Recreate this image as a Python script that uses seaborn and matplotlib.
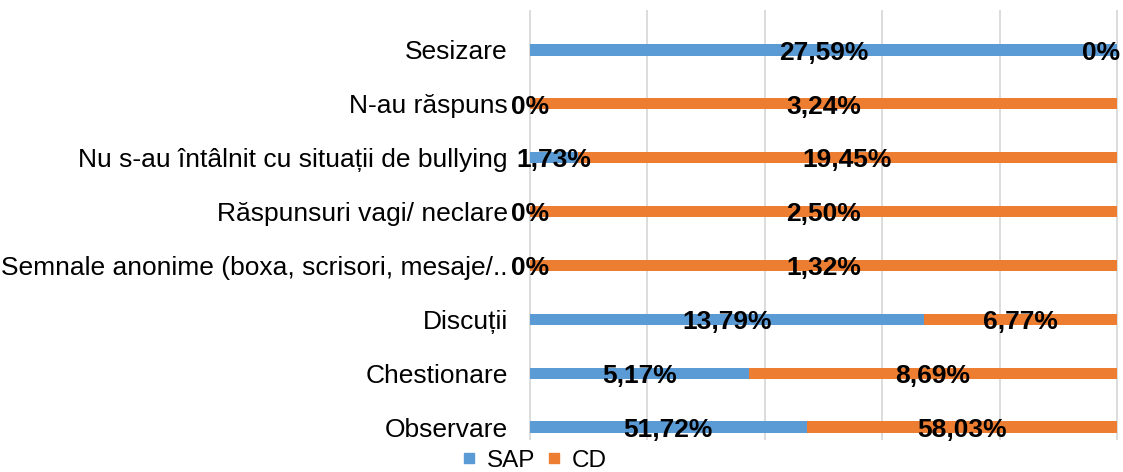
import numpy as np
import pandas as pd
import matplotlib
matplotlib.use("Agg")
import matplotlib.pyplot as plt
from matplotlib.lines import Line2D
import seaborn as sns

categories = ["Sesizare", "N-au răspuns", "Nu s-au întâlnit cu situații de bullying",
              "Răspunsuri vagi/ neclare", "Semnale anonime (boxa, scrisori, mesaje/..",
              "Discuții", "Chestionare", "Observare"]
sap = [27.59, 0, 1.73, 0, 0, 13.79, 5.17, 51.72]
cd = [0, 3.24, 19.45, 2.50, 1.32, 6.77, 8.69, 58.03]
series = ["SAP", "CD"]

blue = "#5B9BD5"
orange = "#ED7D31"

sns.set_theme(style="white")
plt.rcParams["font.family"] = ["Liberation Sans", "DejaVu Sans"]
plt.rcParams["text.color"] = "black"

df = pd.DataFrame({"cat": categories, "SAP": sap, "CD": cd})
tot = df["SAP"] + df["CD"]
df["sap_share"] = df["SAP"] / tot * 100
df["full"] = 100.0

fig = plt.figure(figsize=(11.23, 4.72), dpi=100)
ax = fig.add_axes([530 / 1123, 1 - 454 / 472, 587 / 1123, 431 / 472])

# 100% stacked: orange full bar, blue share on top
sns.barplot(data=df, x="full", y="cat", color=orange, width=0.21, ax=ax,
            saturation=1, linewidth=0, zorder=2)
sns.barplot(data=df, x="sap_share", y="cat", color=blue, width=0.21, ax=ax,
            saturation=1, linewidth=0, zorder=3)

ax.set_xlim(0, 100)
ax.set_ylim(len(categories) - 0.5, -0.5)

# gridlines (plot area sits slightly higher than the bar bands)
ax.vlines([0, 20, 40, 60, 80, 100], ymin=-0.74, ymax=7.24, colors="#D9D9D9",
          linewidth=1.3, zorder=0, clip_on=False)

def fmt(v):
    if v == 0:
        return "0%"
    return f"{v:.2f}%".replace(".", ",")

for i, row in df.iterrows():
    s = row["sap_share"]
    ax.text(s / 2, i + 0.05, fmt(row["SAP"]), ha="center", va="center",
            fontsize=19, fontweight="bold", color="black", zorder=5)
    cx = s + (100 - s) / 2
    ha = "center"
    if cx >= 99.9:
        ha = "right"
        cx = 100.5
    ax.text(cx, i + 0.05, fmt(row["CD"]), ha=ha, va="center",
            fontsize=19, fontweight="bold", color="black", zorder=5)

ax.set_xlabel("")
ax.set_ylabel("")
ax.set_xticks([])
ax.tick_params(axis="y", length=0, pad=16, labelsize=19, labelcolor="black")
for sp in ax.spines.values():
    sp.set_visible(False)

handles = [Line2D([], [], marker="s", linestyle="", markersize=7.5, color=c)
           for c in [blue, orange]]
fig.legend(handles, series, loc="center", bbox_to_anchor=(533 / 1123, 1 - 461 / 472),
           ncol=2, frameon=False, fontsize=17.5, handletextpad=0.3,
           columnspacing=0.4, handlelength=0.8, borderpad=0, labelcolor="black")

fig.savefig("out.png", dpi=100)
